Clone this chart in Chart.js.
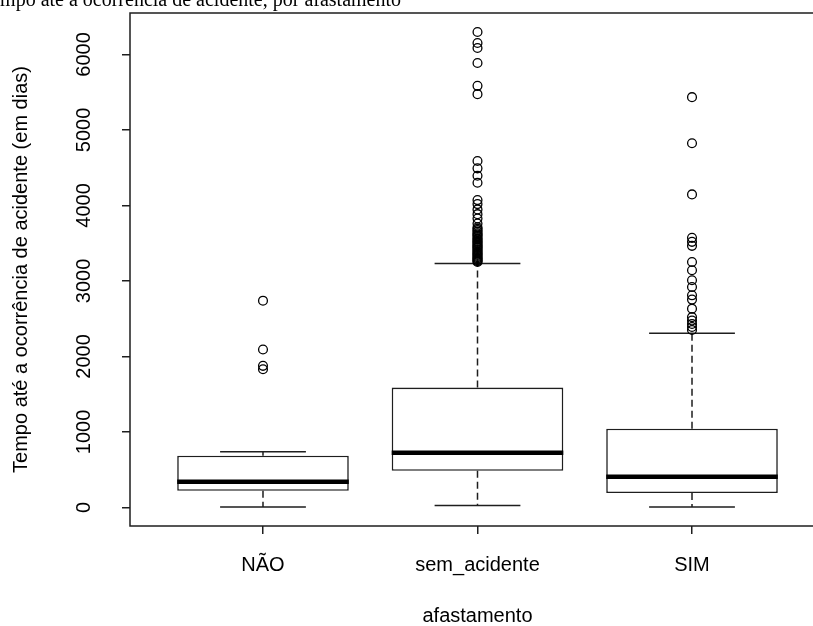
<!DOCTYPE html>
<html lang="pt-BR">
<head>
<meta charset="utf-8">
<title>Tempo até a ocorrência de acidente, por afastamento</title>
<script src="https://cdn.jsdelivr.net/npm/chart.js@4.4.1/dist/chart.umd.min.js"></script>
<style>
    html, body { margin: 0; padding: 0; background: #fff; overflow: hidden; }
    #wrap { width: 840px; height: 626px; }
</style>
</head>
<body>
<div id="wrap"><canvas id="boxplot" width="840" height="626"></canvas></div>
<script>
// --- DADOS ---
const groups = ['NÃO', 'sem_acidente', 'SIM'];
const whiskerLow = [5, 25, 5];
const boxQ1 = [219, 485, 189];
const medians = [339, 724, 405];
const boxQ3 = [684, 1587, 1043];
const whiskerHigh = [737, 3230, 2308];

const outliersNao = [1830, 1875, 2092, 2738];
const outliersSemAcidente = [
    3250, 3262, 3275, 3290, 3300, 3315, 3330, 3345, 3360, 3372,
    3390, 3405, 3420, 3438, 3450, 3468, 3480, 3500, 3515, 3530,
    3548, 3560, 3580, 3600, 3615, 3630, 3650, 3672, 3690, 3710,
    3760, 3827, 3884, 3947, 4017, 4070,
    4300, 4393, 4491, 4588,
    5474, 5584, 5886, 6085, 6151, 6297
];
const outliersSim = [
    2350, 2390, 2430, 2475, 2520, 2632, 2752, 2809, 2919, 3008,
    3141, 3251, 3464, 3517, 3570, 4146, 4823, 5434
];

const yTicks = [0, 1000, 2000, 3000, 4000, 5000, 6000];

const captionText = 'Tempo até a ocorrência de acidente, por afastamento';
const yTitle = 'Tempo até a ocorrência de acidente (em dias)';
const xTitle = 'afastamento';

// --- ESCALAS (estilo boxplot do R: 4% de folga nos dois eixos) ---
const allOutliers = [outliersNao, outliersSemAcidente, outliersSim];
const allValues = whiskerLow.concat(whiskerHigh, ...allOutliers);
const yLo = Math.min(...allValues);
const yHi = Math.max(...allValues);
const yPad = (yHi - yLo) * 0.04;
const xPad = groups.length * 0.04;

const LINE = '#1e1e1e';
const FONT = '"Liberation Sans", Arial, sans-serif';

// Bigodes tracejados, mediana grossa, moldura e rótulos girados do eixo y
const boxPlotPlugin = {
    id: 'boxPlotExtras',
    beforeDatasetsDraw(chart) {
        const { ctx, scales: { x, y } } = chart;
        ctx.save();
        ctx.strokeStyle = LINE;
        ctx.lineWidth = 1.5;
        groups.forEach((g, i) => {
            const cx = x.getPixelForValue(i + 1);
            const capL = x.getPixelForValue(i + 1 - 0.2);
            const capR = x.getPixelForValue(i + 1 + 0.2);
            // hastes
            ctx.setLineDash([7, 4]);
            ctx.beginPath();
            ctx.moveTo(cx, y.getPixelForValue(boxQ3[i]));
            ctx.lineTo(cx, y.getPixelForValue(whiskerHigh[i]));
            ctx.moveTo(cx, y.getPixelForValue(boxQ1[i]));
            ctx.lineTo(cx, y.getPixelForValue(whiskerLow[i]));
            ctx.stroke();
            // traços das pontas
            ctx.setLineDash([]);
            ctx.beginPath();
            ctx.moveTo(capL, y.getPixelForValue(whiskerHigh[i]));
            ctx.lineTo(capR, y.getPixelForValue(whiskerHigh[i]));
            ctx.moveTo(capL, y.getPixelForValue(whiskerLow[i]));
            ctx.lineTo(capR, y.getPixelForValue(whiskerLow[i]));
            ctx.stroke();
        });
        ctx.restore();
    },
    afterDatasetsDraw(chart) {
        const { ctx, scales: { x, y } } = chart;
        ctx.save();
        ctx.strokeStyle = '#000';
        ctx.lineWidth = 4.5;
        groups.forEach((g, i) => {
            const py = y.getPixelForValue(medians[i]);
            ctx.beginPath();
            ctx.moveTo(x.getPixelForValue(i + 1 - 0.4), py);
            ctx.lineTo(x.getPixelForValue(i + 1 + 0.4), py);
            ctx.stroke();
        });
        ctx.restore();
    },
    afterDraw(chart) {
        const { ctx, chartArea, scales: { y } } = chart;
        ctx.save();
        // moldura
        ctx.strokeStyle = LINE;
        ctx.lineWidth = 1.5;
        ctx.strokeRect(chartArea.left, chartArea.top,
            chartArea.right - chartArea.left, chartArea.bottom - chartArea.top);

        // rótulos do eixo y, paralelos ao eixo
        ctx.fillStyle = '#000';
        ctx.font = '20px ' + FONT;
        ctx.textAlign = 'center';
        ctx.textBaseline = 'middle';
        yTicks.forEach(v => {
            ctx.save();
            ctx.translate(84, y.getPixelForValue(v));
            ctx.rotate(-Math.PI / 2);
            ctx.fillText(String(v), 0, 0);
            ctx.restore();
        });

        // legenda da figura, cortada no topo
        ctx.font = '20px "Liberation Serif", "Times New Roman", serif';
        ctx.textAlign = 'right';
        ctx.textBaseline = 'alphabetic';
        ctx.fillText(captionText, 401, 6);
        ctx.restore();
    }
};

const boxData = groups.map((g, i) => ({ x: i + 1, y: [boxQ1[i], boxQ3[i]] }));
const outlierDatasets = allOutliers.map((list, i) => ({
    type: 'scatter',
    label: groups[i],
    data: list.map(v => ({ x: i + 1, y: v })),
    pointStyle: 'circle',
    pointRadius: 4.4,
    borderWidth: 1.3,
    borderColor: '#000',
    backgroundColor: 'rgba(0, 0, 0, 0)',
    order: 0
}));

new Chart(document.getElementById('boxplot'), {
    type: 'bar',
    data: {
        datasets: [{
            type: 'bar',
            label: 'caixa',
            data: boxData,
            backgroundColor: '#fff',
            borderColor: LINE,
            borderWidth: 1.6,
            borderSkipped: false,
            barPercentage: 0.8,
            categoryPercentage: 1,
            order: 1
        }, ...outlierDatasets]
    },
    options: {
        responsive: false,
        animation: false,
        events: [],
        layout: { padding: { top: 13, right: 15, left: 0, bottom: 0 } },
        plugins: {
            legend: { display: false },
            tooltip: { enabled: false }
        },
        scales: {
            x: {
                type: 'linear',
                offset: false,
                min: 0.5 - xPad,
                max: groups.length + 0.5 + xPad,
                afterBuildTicks: scale => { scale.ticks = groups.map((g, i) => ({ value: i + 1 })); },
                afterFit: scale => { scale.height = 100; },
                grid: { offset: false, drawOnChartArea: false, drawTicks: true, tickLength: 8, color: LINE, lineWidth: 1.5 },
                border: { display: false },
                ticks: {
                    autoSkip: false,
                    maxRotation: 0,
                    padding: 19,
                    color: '#000',
                    font: { family: FONT, size: 20 },
                    callback: v => groups[v - 1]
                },
                title: {
                    display: true,
                    text: xTitle,
                    color: '#000',
                    font: { family: FONT, size: 20 },
                    padding: { top: 0, bottom: -2 }
                }
            },
            y: {
                type: 'linear',
                min: yLo - yPad,
                max: yHi + yPad,
                afterBuildTicks: scale => { scale.ticks = yTicks.map(v => ({ value: v })); },
                afterFit: scale => { scale.width = 130; },
                grid: { drawOnChartArea: false, drawTicks: true, tickLength: 8, color: LINE, lineWidth: 1.5 },
                border: { display: false },
                ticks: { display: false },
                title: {
                    display: true,
                    text: yTitle,
                    color: '#000',
                    font: { family: FONT, size: 20 },
                    padding: { top: 9, bottom: 0 }
                }
            }
        }
    },
    plugins: [boxPlotPlugin]
});
</script>
</body>
</html>
